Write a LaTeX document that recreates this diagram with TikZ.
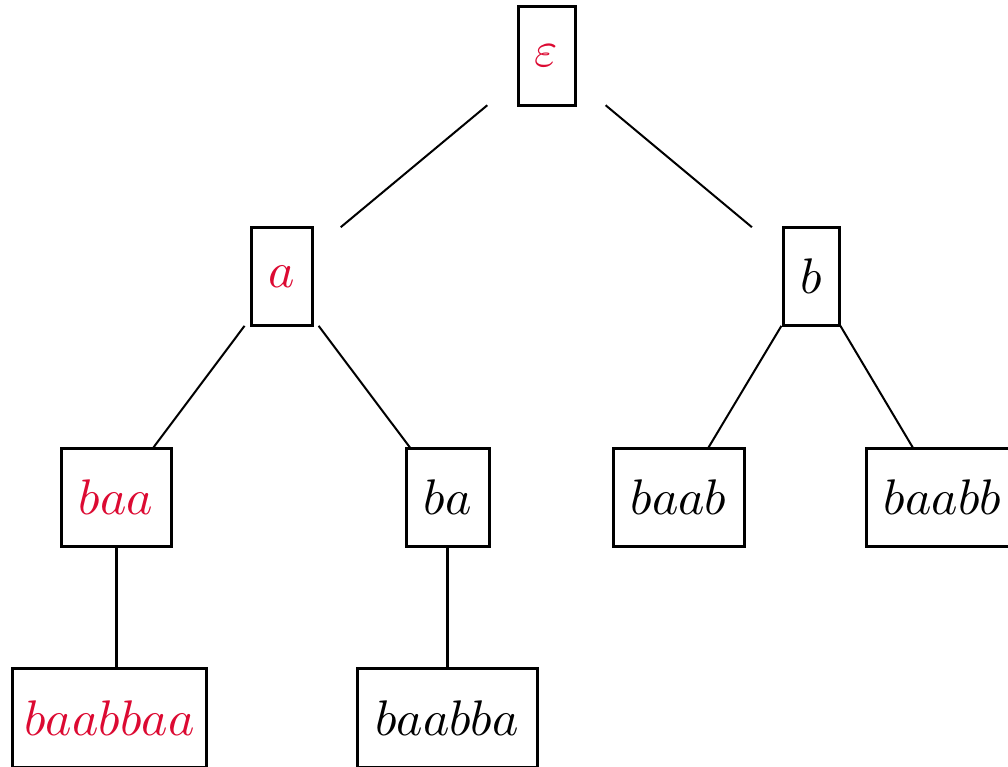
\documentclass[tikz,border=0pt]{standalone}
\usetikzlibrary{calc}
\definecolor{hl}{RGB}{220,10,50}
\begin{document}
\begin{tikzpicture}[x=0.2pt,y=-0.2pt,
  box/.style={draw,line width=0.6pt,rectangle,inner sep=0pt,outer sep=0pt,
    minimum height=19.7pt},
  edge/.style={line width=0.4pt},
  stem/.style={line width=0.6pt},
  red/.style={text=hl}]
\useasboundingbox (0,0) rectangle (1008,767);
% tree nodes
\node[box,red,minimum width=11.4pt] (root) at (546.5,56) {$\varepsilon$};
\node[box,red,minimum width=12.2pt] (a) at (281.5,276.5) {$a$};
\node[box,minimum width=11.2pt] (b) at (811,276.5) {$b$};
\node[box,red,minimum width=22pt] (baa) at (116,497.5) {$baa$};
\node[box,minimum width=16.6pt] (ba) at (447.5,497.5) {$ba$};
\node[box,minimum width=26.2pt] (baab) at (678.5,497.5) {$baab$};
\node[box,minimum width=30.6pt] (baabb) at (942.5,497.5) {$baabb$};
\node[box,red,minimum width=38.6pt] (baabbaa) at (109.5,718) {$baabbaa$};
\node[box,minimum width=36pt] (baabba) at (447,718) {$baabba$};
% branching edges run along the centre line, trimmed to the box rows
\foreach \p/\c in {root/a,root/b,a/baa,a/ba,b/baab,b/baabb}
  \draw[edge] ($(\p)!0.2234!(\c)$) -- ($(\p)!0.7766!(\c)$);
% single-child edges drop straight down
\foreach \p/\c in {baa/baabbaa,ba/baabba}
  \draw[stem] (\p.south) -- (\p.south |- \c.north);
\end{tikzpicture}
\end{document}
